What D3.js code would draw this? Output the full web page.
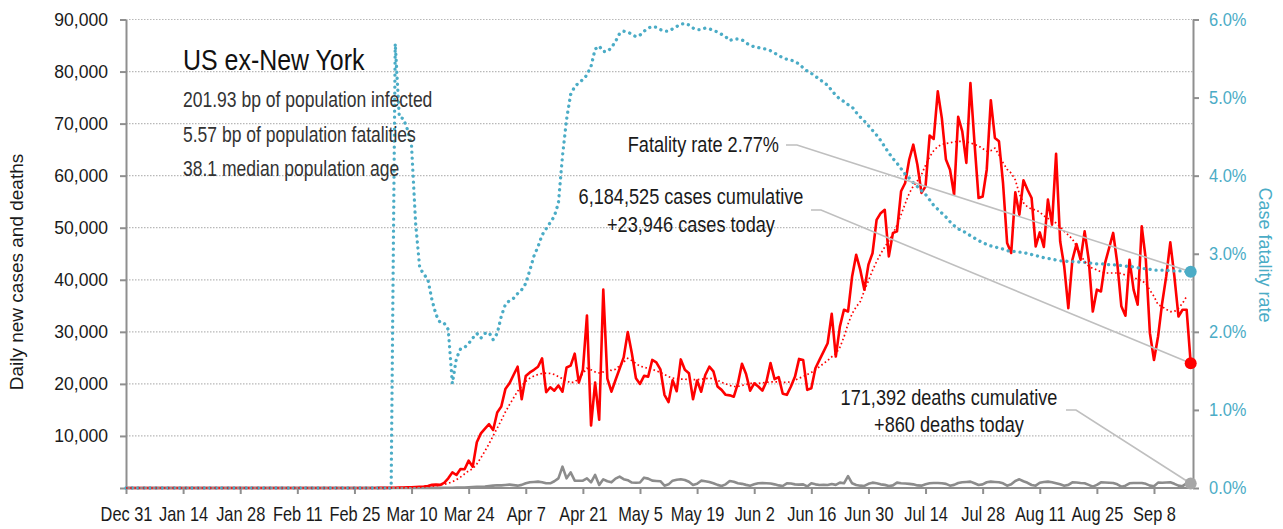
<!DOCTYPE html>
<html><head><meta charset="utf-8">
<script src="https://cdn.jsdelivr.net/npm/d3@7/dist/d3.min.js"></script>
<style>
body{margin:0;background:#fff;}
svg{display:block;font-family:'Liberation Sans',Arial,sans-serif;}
</style></head><body>
<svg id="chart" width="1283" height="529"></svg>
<script>
// ---------------- DATA ----------------
const startDate = "2019-12-31";
const tickDates = ["2019-12-31","2020-01-14","2020-01-28","2020-02-11","2020-02-25","2020-03-10","2020-03-24",
  "2020-04-07","2020-04-21","2020-05-05","2020-05-19","2020-06-02","2020-06-16","2020-06-30","2020-07-14",
  "2020-07-28","2020-08-11","2020-08-25","2020-09-08"];
const leftTicks = [0,10000,20000,30000,40000,50000,60000,70000,80000,90000];
const rightTicks = [0,1,2,3,4,5,6];

// daily new cases (one value per day from startDate)
const cases = [
0,0,0,0,0,0,0,0,0,0,
0,0,0,0,0,0,0,0,0,0,
0,1,0,0,0,1,0,0,0,0,
1,1,0,0,0,1,0,0,0,0,
0,0,0,0,0,0,0,0,0,0,
0,0,0,0,0,1,0,1,5,3,
5,10,15,20,30,40,50,70,80,120,
150,200,250,300,400,600,650,600,1000,1860,
3000,2500,3650,3600,5250,4100,8800,10500,11400,12250,
11150,14500,15650,19000,20100,21700,23300,17050,21500,22200,
22700,23300,24900,18400,19350,18700,19700,18500,23150,23500,
25800,20250,22700,33150,12000,20250,13100,38100,21000,18500,
20750,22900,25100,29950,25900,21100,20000,21550,21400,24600,
24150,22800,17900,16500,20700,18600,24700,22700,22050,17050,
20650,18500,21700,23300,22400,19500,18850,17900,17800,17550,
20100,23850,21900,18700,20100,19500,18700,20450,24000,20900,
21300,18100,17900,19500,21400,24800,24600,18850,19150,23000,
24600,26200,27800,33450,25250,31000,34250,33900,40650,44800,
41900,38100,42900,45100,51500,52800,53450,44500,49000,49300,
57000,58600,63100,65950,62100,56700,57950,67700,67050,76200,
71000,63100,61150,56350,71300,68500,62450,77800,66300,55700,
56000,61150,74500,67250,66600,58500,47050,45150,56800,52500,
59100,57300,55700,46400,49100,46300,55400,50600,64200,47400,
42550,34550,43850,46850,43850,49300,43850,33900,38100,37750,
43200,46100,49000,43200,34900,33100,43850,38100,35200,50250,
43850,29750,24600,29100,35500,40650,47200,40650,32950,34250,
34250,23946];

// trend of daily new cases (dotted red)
const casesTrend = [
0,0,0,0,0,0,0,0,0,0,
0,0,0,0,0,0,0,0,0,0,
0,0,0,0,0,0,0,0,0,0,
0,0,0,0,0,0,0,0,0,0,
0,0,0,0,0,0,0,0,0,0,
0,0,0,0,0,0,0,1,1,2,
3,5,7,10,14,19,24,33,42,56,
100,130,170,220,280,360,450,550,700,900,
1200,1600,2100,2700,3300,3700,4600,5800,7100,8500,
10000,11500,13000,14600,16000,17300,18600,19600,20500,21100,
21500,21800,22000,22050,22000,21800,21400,21000,20600,20200,
20400,21000,22000,23000,22700,22300,22100,22300,22700,22600,
22800,23500,24200,24900,24500,23900,23400,23200,23000,22800,
22500,22200,21800,21400,21100,21000,20900,20900,20800,20800,
20800,20900,21000,21100,21000,20700,20300,20000,19700,19500,
19500,19700,19900,20100,20100,20100,20200,20300,20400,20400,
20400,20300,20300,20400,20700,21100,21400,21800,22200,22700,
23300,23900,24500,25200,25800,27000,29000,31500,33500,34800,
35800,37900,39800,41800,43500,45000,46300,47500,48800,50500,
52500,54600,56600,58000,59000,60200,62000,63600,64800,65600,
66000,66200,66300,66500,66600,66600,66500,66300,66000,65700,
65200,64700,64800,65300,64000,62500,61200,60500,59200,56500,
54800,54000,53600,53400,53000,52300,51800,51300,50900,50200,
49300,48600,47800,46500,44800,43500,42600,42200,41900,41500,
41300,41300,41300,41300,41200,40900,40650,40400,40100,39800,
39300,38000,36800,35200,34850,34300,33900,33900,34500,35500,
36800];

// daily new deaths
const deaths = [
0,0,0,0,0,0,0,0,0,0,
0,0,0,0,0,0,0,0,0,0,
0,0,0,0,0,0,0,0,0,0,
0,0,0,0,0,0,0,0,0,0,
0,0,0,0,0,0,0,0,0,0,
0,0,0,0,0,0,0,0,0,1,
0,1,2,1,3,4,5,5,8,10,
8,10,12,15,17,20,25,30,40,50,
60,70,90,110,140,180,220,250,300,380,
450,520,500,580,650,550,450,600,900,1090,
1150,1220,1100,900,900,1300,1860,4100,1860,3000,
1410,1400,1410,1860,1090,2500,580,1670,1300,1090,
1800,2180,1700,1500,1050,1000,1050,1990,1800,1410,
1350,1300,450,700,1410,1600,1670,1540,1200,580,
800,1410,1300,1150,900,600,390,700,1350,1200,
900,800,600,450,700,900,950,900,850,700,
500,390,900,850,700,650,700,300,900,700,
580,600,580,770,600,1030,900,2300,900,580,
450,390,800,1030,900,700,600,390,500,1030,
900,850,800,700,500,450,700,900,950,950,
900,800,450,600,950,1090,1150,1220,900,580,
700,1100,1220,1150,1090,900,450,700,1350,1670,
1300,1000,580,450,1000,1150,1220,1100,900,700,
450,600,1090,1050,960,900,600,260,600,1090,
1050,1000,960,700,260,450,900,960,950,960,
800,450,350,1030,1000,1050,1090,800,450,350,
900,860];

// case fatality rate, percent
const fatalityRate = [
0,0,0,0,0,0,0,0,0,0,
0,0,0,0,0,0,0,0,0,0,
0,0,0,0,0,0,0,0,0,0,
0,0,0,0,0,0,0,0,0,0,
0,0,0,0,0,0,0,0,0,0,
0,0,0,0,0,0,0,0,0,0,
0,0,0,0,0,0,5.69,4.75,4.73,4.59,
4.38,3.39,2.82,2.74,2.67,2.41,2.22,2.12,2.11,2.03,
1.34,1.66,1.78,1.80,1.85,1.92,1.98,1.92,1.98,1.99,
1.90,1.98,2.20,2.35,2.40,2.43,2.49,2.54,2.62,2.79,
2.97,3.09,3.24,3.32,3.40,3.48,3.65,4.25,4.72,5.04,
5.14,5.19,5.23,5.29,5.40,5.62,5.66,5.59,5.59,5.64,
5.72,5.82,5.85,5.84,5.81,5.78,5.80,5.85,5.89,5.91,
5.90,5.87,5.85,5.85,5.88,5.91,5.94,5.95,5.93,5.89,
5.87,5.87,5.89,5.88,5.86,5.84,5.81,5.78,5.73,5.75,
5.75,5.74,5.70,5.67,5.65,5.64,5.63,5.62,5.60,5.57,
5.54,5.51,5.49,5.48,5.46,5.43,5.38,5.34,5.31,5.27,
5.24,5.19,5.16,5.09,5.03,4.98,4.95,4.91,4.88,4.81,
4.75,4.70,4.64,4.58,4.52,4.45,4.37,4.29,4.22,4.16,
4.09,4.02,3.97,3.91,3.86,3.81,3.76,3.69,3.62,3.57,
3.52,3.47,3.41,3.36,3.32,3.29,3.27,3.23,3.20,3.17,
3.14,3.12,3.10,3.09,3.07,3.06,3.04,3.03,3.03,3.02,
3.02,3.00,2.99,2.98,2.96,2.95,2.94,2.93,2.92,2.91,
2.91,2.90,2.90,2.90,2.89,2.89,2.88,2.88,2.87,2.87,
2.87,2.86,2.86,2.85,2.85,2.84,2.84,2.83,2.82,2.81,
2.81,2.80,2.79,2.79,2.79,2.79,2.78,2.78,2.78,2.78,
2.77,2.77];

const titleText = "US ex-New York";
const subtitleLines = ["201.93 bp of population infected","5.57 bp of population fatalities","38.1 median population age"];
const fatalityLabel = "Fatality rate 2.77%";
const casesLabel = ["6,184,525 cases cumulative","+23,946 cases today"];
const deathsLabel = ["171,392 deaths cumulative","+860 deaths today"];
const leftAxisTitle = "Daily new cases and deaths";
const rightAxisTitle = "Case fatality rate";

// ---------------- CHART ----------------
const svg = d3.select("#chart");
const parse = d3.timeParse("%Y-%m-%d");
const start = parse(startDate);
const dayOf = i => d3.timeDay.offset(start, i);
const lastIdx = cases.length - 1;

const X0 = 126, X1 = 1193, YB = 488, YT = 19.5;
const x = d3.scaleTime().domain([start, dayOf(lastIdx)]).range([X0, 1190.7]);
const yL = d3.scaleLinear().domain([0, 90000]).range([YB, YT]);
const yR = d3.scaleLinear().domain([0, 6]).range([YB, YT]);

const BLUE = "#4bacc6", RED = "#ff0000", GREY = "#8c8c8c", AXIS = "#8f8f8f", INK = "#1a1a1a";

// horizontally condense text (emulates the narrow face of the original)
function narrow(sel, sx) {
  sel.each(function () {
    const t = d3.select(this);
    const xv = +t.attr("x") || 0;
    t.attr("x", xv / sx);
    const prev = t.attr("transform") || "";
    t.attr("transform", (prev + ` scale(${sx},1)`).trim());
  });
  return sel;
}

// gridlines
svg.append("g").selectAll("line").data(leftTicks.filter(d => d > 0)).join("line")
  .attr("x1", X0).attr("x2", X1).attr("y1", d => yL(d)).attr("y2", d => yL(d))
  .attr("stroke", "#b8b8b8").attr("stroke-width", 1.2).attr("stroke-dasharray", "1.5,1.5");

const lineOf = (arr, y) => d3.line().x((d, i) => x(dayOf(i))).y(d => y(d));

// solid series (under the axis line)
svg.append("path").datum(deaths).attr("d", lineOf(deaths, yL))
  .attr("fill", "none").attr("stroke", GREY).attr("stroke-width", 2.6).attr("stroke-linejoin", "round");
svg.append("path").datum(cases).attr("d", lineOf(cases, yL))
  .attr("fill", "none").attr("stroke", RED).attr("stroke-width", 2.6).attr("stroke-linejoin", "round");

// axes
const gL = svg.append("g").attr("transform", `translate(${X0},0)`)
  .call(d3.axisLeft(yL).tickValues(leftTicks).tickSize(6).tickSizeOuter(0).tickPadding(12)
    .tickFormat(d => d === 0 ? "" : d3.format(",")(d)));
const gR = svg.append("g").attr("transform", `translate(${X1},0)`)
  .call(d3.axisRight(yR).tickValues(rightTicks).tickSize(6).tickSizeOuter(0).tickPadding(10)
    .tickFormat(d => d.toFixed(1) + "%"));
const gX = svg.append("g").attr("transform", `translate(0,${YB})`)
  .call(d3.axisBottom(x).tickValues(tickDates.map(parse)).tickSize(6).tickSizeOuter(0).tickPadding(13)
    .tickFormat(d3.timeFormat("%b %-d")));
gX.select(".domain").attr("d", `M${X0},0H${X1}`);
[gL, gR, gX].forEach(g => {
  g.attr("font-family", null);
  g.select(".domain").attr("stroke", AXIS).attr("stroke-width", 2);
  g.selectAll(".tick line").attr("stroke", AXIS).attr("stroke-width", 2);
  g.selectAll("text").attr("fill", INK);
});
gL.selectAll("text").style("font-size", "18.5px"); narrow(gL.selectAll("text"), 0.95);
gR.selectAll("text").style("font-size", "18.5px").attr("fill", BLUE); narrow(gR.selectAll("text"), 0.89);
gX.selectAll("text").style("font-size", "20px"); narrow(gX.selectAll("text"), 0.82);

// dotted series
svg.append("path").datum(fatalityRate).attr("d", lineOf(fatalityRate, yR))
  .attr("fill", "none").attr("stroke", BLUE).attr("stroke-width", 3.3)
  .attr("stroke-linecap", "round").attr("stroke-dasharray", "0.1,5.9");
svg.append("path").datum(casesTrend).attr("d", lineOf(casesTrend, yL))
  .attr("fill", "none").attr("stroke", RED).attr("stroke-width", 1.7).attr("stroke-dasharray", "1.6,2.6");

// leader lines
const lx = x(dayOf(lastIdx));
const leader = (pts) => svg.append("path").attr("d", d3.line()(pts))
  .attr("fill", "none").attr("stroke", "#bfbfbf").attr("stroke-width", 1.6);
leader([[786, 145], [797, 145], [lx, yR(fatalityRate[lastIdx])]]);
leader([[811, 210], [821, 210], [lx, yL(cases[lastIdx])]]);
leader([[1066, 410], [1076, 410], [lx, yL(deaths[lastIdx])]]);

// end markers
svg.append("circle").attr("cx", lx).attr("cy", yR(fatalityRate[lastIdx])).attr("r", 6).attr("fill", BLUE);
svg.append("circle").attr("cx", lx).attr("cy", yL(cases[lastIdx])).attr("r", 6).attr("fill", RED);
svg.append("circle").attr("cx", lx).attr("cy", yL(deaths[lastIdx])).attr("r", 6).attr("fill", "#a6a6a6");

// texts
narrow(svg.append("text").attr("x", 183).attr("y", 70.5).text(titleText)
  .style("font-size", "29px").attr("fill", "#111"), 0.86);
subtitleLines.forEach((t, i) => narrow(svg.append("text").attr("x", 183).attr("y", [107, 142.5, 176.5][i])
  .text(t).style("font-size", "21.5px").attr("fill", "#333"), 0.815));

narrow(svg.append("text").attr("x", 779).attr("y", 152.5).attr("text-anchor", "end")
  .text(fatalityLabel).style("font-size", "22px").attr("fill", INK), 0.825);
casesLabel.forEach((t, i) => narrow(svg.append("text").attr("x", 691).attr("y", [204, 232][i]).attr("text-anchor", "middle")
  .text(t).style("font-size", "22px").attr("fill", INK), 0.825));
deathsLabel.forEach((t, i) => narrow(svg.append("text").attr("x", 949).attr("y", [405, 432.5][i]).attr("text-anchor", "middle")
  .text(t).style("font-size", "22px").attr("fill", INK), 0.825));

svg.append("text").attr("transform", "translate(23,272) rotate(-90)").attr("text-anchor", "middle")
  .text(leftAxisTitle).style("font-size", "19px").attr("fill", INK);
svg.append("text").attr("transform", "translate(1259,255) rotate(90)").attr("text-anchor", "middle")
  .text(rightAxisTitle).style("font-size", "18px").attr("fill", BLUE);
</script>
</body></html>
